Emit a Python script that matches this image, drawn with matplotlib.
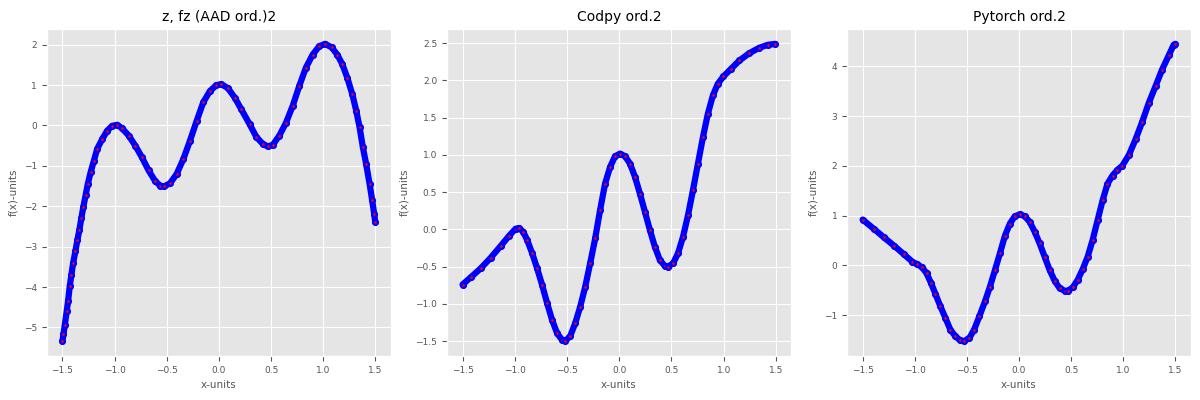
import numpy as np
import matplotlib
matplotlib.use("Agg")
from matplotlib import pyplot as plt

plt.style.use("ggplot")

# values
x_aad = [-1.5, -1.49, -1.478, -1.459, -1.446, -1.43, -1.414, -1.398, -1.376, -1.357,
         -1.338, -1.319, -1.30, -1.278, -1.256, -1.23, -1.198, -1.167, -1.119, -1.071,
         -1.024, -0.976, -0.929, -0.865, -0.802, -0.738, -0.675, -0.611, -0.563, -0.525,
         -0.468, -0.405, -0.341, -0.278, -0.214, -0.151, -0.087, -0.024, 0.024, 0.087,
         0.151, 0.214, 0.294, 0.357, 0.421, 0.468, 0.516, 0.579, 0.643, 0.706,
         0.77, 0.833, 0.897, 0.96, 1.017, 1.081, 1.135, 1.183, 1.23, 1.278,
         1.316, 1.348, 1.379, 1.41, 1.443, 1.468, 1.487, 1.497]
y_aad = [-5.34, -5.17, -4.95, -4.60, -4.35, -3.98, -3.70, -3.41, -3.12, -2.84,
         -2.59, -2.30, -2.02, -1.73, -1.44, -1.16, -0.87, -0.58, -0.34, -0.13,
         -0.01, 0.016, -0.07, -0.25, -0.50, -0.79, -1.11, -1.38, -1.49, -1.51,
         -1.43, -1.20, -0.83, -0.38, 0.11, 0.57, 0.85, 1.0, 1.02, 0.92,
         0.69, 0.40, 0.03, -0.28, -0.46, -0.52, -0.48, -0.25, 0.07, 0.48,
         0.98, 1.43, 1.75, 1.96, 2.02, 1.93, 1.75, 1.51, 1.18, 0.77,
         0.36, -0.05, -0.54, -0.95, -1.44, -1.85, -2.18, -2.38]

x_codpy = [-1.5, -1.421, -1.325, -1.23, -1.135, -1.056, -0.992, -0.96, -0.919, -0.881,
           -0.833, -0.786, -0.738, -0.69, -0.643, -0.595, -0.548, -0.516, -0.468, -0.421,
           -0.373, -0.325, -0.278, -0.23, -0.183, -0.135, -0.087, -0.040, 0.008, 0.056,
           0.103, 0.151, 0.198, 0.246, 0.294, 0.341, 0.389, 0.437, 0.468, 0.516,
           0.563, 0.611, 0.659, 0.706, 0.754, 0.802, 0.849, 0.897, 0.944, 0.998,
           1.071, 1.151, 1.246, 1.341, 1.421, 1.494]
y_codpy = [-0.74, -0.643, -0.522, -0.38, -0.223, -0.089, 0.009, 0.018, -0.031, -0.143,
           -0.321, -0.522, -0.746, -0.991, -1.214, -1.393, -1.482, -1.50, -1.429, -1.259,
           -1.036, -0.768, -0.455, -0.121, 0.259, 0.616, 0.839, 0.982, 1.018, 0.982,
           0.884, 0.705, 0.482, 0.237, -0.009, -0.232, -0.411, -0.491, -0.50, -0.455,
           -0.321, -0.098, 0.192, 0.527, 0.884, 1.241, 1.554, 1.799, 1.955, 2.054,
           2.156, 2.268, 2.366, 2.438, 2.478, 2.491]

x_torch = [-1.5, -1.389, -1.294, -1.198, -1.103, -1.024, -0.976, -0.929, -0.887, -0.843,
           -0.802, -0.754, -0.706, -0.659, -0.611, -0.563, -0.525, -0.475, -0.43, -0.38,
           -0.326, -0.278, -0.23, -0.183, -0.135, -0.087, -0.040, 0.008, 0.056, 0.103,
           0.151, 0.198, 0.246, 0.294, 0.341, 0.389, 0.437, 0.468, 0.516, 0.563,
           0.611, 0.659, 0.706, 0.754, 0.802, 0.849, 0.897, 0.944, 0.992, 1.056,
           1.119, 1.183, 1.246, 1.310, 1.373, 1.437, 1.484, 1.5]
y_torch = [0.922, 0.729, 0.562, 0.396, 0.223, 0.077, 0.024, -0.037, -0.156, -0.356,
           -0.569, -0.82, -1.053, -1.286, -1.419, -1.505, -1.519, -1.452, -1.286, -1.02,
           -0.721, -0.422, -0.09, 0.243, 0.596, 0.842, 0.988, 1.028, 0.988, 0.875,
           0.676, 0.443, 0.177, -0.09, -0.303, -0.455, -0.508, -0.508, -0.441, -0.289,
           -0.076, 0.176, 0.509, 0.908, 1.307, 1.64, 1.806, 1.919, 2.005, 2.225,
           2.537, 2.89, 3.269, 3.601, 3.934, 4.219, 4.432, 4.45]

titles = ["z, fz (AAD ord.)2", "Codpy ord.2", "Pytorch ord.2"]
xs = [x_aad, x_codpy, x_torch]
ys = [y_aad, y_codpy, y_torch]

fig, axes = plt.subplots(1, 3, figsize=(12, 4), dpi=100)
fig.subplots_adjust(left=0.039, right=0.9925, bottom=0.11, top=0.9275, wspace=0.163)

for ax, x, y, title in zip(axes, xs, ys, titles):
    ax.plot(x, y, color="blue", linewidth=4.5, solid_capstyle="round", zorder=2)
    ax.plot(x, y, linestyle="none", marker="o", markersize=3.5, markeredgewidth=1.6,
            markeredgecolor="blue", markerfacecolor="red", zorder=3)
    ax.set_title(title, fontsize=10, color="black")
    ax.set_xlabel("x-units", fontsize=7.5)
    ax.set_ylabel("f(x)-units", fontsize=7.5)
    ax.tick_params(labelsize=6.5)
    ax.set_xticks([-1.5, -1.0, -0.5, 0.0, 0.5, 1.0, 1.5])

fig.savefig("out.png")
